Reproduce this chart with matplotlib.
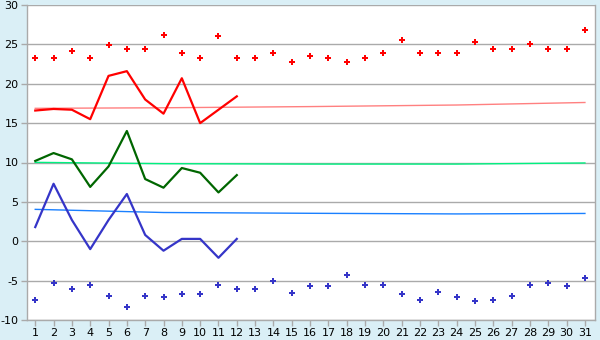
import matplotlib
matplotlib.use("Agg")
import matplotlib.pyplot as plt

plt.rcParams["axes.unicode_minus"] = False

days = list(range(1, 32))
max_pts = [23.3, 23.3, 24.1, 23.3, 24.9, 24.4, 24.4, 26.2, 23.9, 23.3,
           26.1, 23.3, 23.3, 23.9, 22.8, 23.5, 23.3, 22.8, 23.3, 23.9,
           25.6, 23.9, 23.9, 23.9, 25.3, 24.4, 24.4, 25.0, 24.4, 24.4, 26.8]
min_pts = [-7.5, -5.3, -6.1, -5.6, -6.9, -8.3, -6.9, -7.1, -6.7, -6.7,
           -5.6, -6.1, -6.1, -5.0, -6.6, -5.7, -5.7, -4.3, -5.6, -5.6,
           -6.7, -7.5, -6.4, -7.1, -7.6, -7.5, -6.9, -5.6, -5.3, -5.7, -4.7]
line_days = list(range(1, 13))
red_line = [16.6, 16.8, 16.7, 15.5, 21.0, 21.6, 18.0, 16.2, 20.7, 15.0, 16.7, 18.4]
green_line = [10.2, 11.2, 10.4, 6.9, 9.5, 14.0, 7.9, 6.8, 9.3, 8.7, 6.2, 8.4]
blue_line = [1.8, 7.3, 2.7, -1.0, 2.7, 6.0, 0.8, -1.2, 0.3, 0.3, -2.1, 0.3]
trend_days = [1, 8, 16, 24, 31]
red_trend = [16.88, 16.95, 17.1, 17.3, 17.62]
green_trend = [10.02, 9.85, 9.8, 9.8, 9.94]
blue_trend = [4.05, 3.65, 3.55, 3.47, 3.53]

bg = "#daeff6"
fig = plt.figure(figsize=(6, 3.4), dpi=100, facecolor=bg)
ax = fig.add_axes([27/600, 20/340, 568/600, 315/340])
ax.set_facecolor("white")

ax.plot(trend_days, red_trend, color="#ff8080", lw=1.0, zorder=2)
ax.plot(trend_days, green_trend, color="#00f080", lw=1.0, zorder=2)
ax.plot(trend_days, blue_trend, color="#1a80ff", lw=1.0, zorder=2)

ax.plot(line_days, red_line, color="#ff0000", lw=1.6, zorder=3)
ax.plot(line_days, green_line, color="#006600", lw=1.6, zorder=3)
ax.plot(line_days, blue_line, color="#3535c8", lw=1.6, zorder=3)

ax.plot(days, max_pts, ls="none", marker="P", ms=5, color="#ff0000", mew=0, zorder=4)
ax.plot(days, min_pts, ls="none", marker="P", ms=5, color="#3535c8", mew=0, zorder=4)

ax.set_xlim(0.55, 31.55)
ax.set_ylim(-10, 30)
ax.set_xticks(days)
ax.set_yticks(range(-10, 31, 5))
ax.yaxis.grid(True, color="#aaaaaa", lw=1.0)
ax.set_axisbelow(True)
for s in ["left", "bottom", "right"]:
    ax.spines[s].set_color("#aaaaaa")
    ax.spines[s].set_linewidth(1.0)
ax.spines["top"].set_visible(False)
ax.tick_params(axis="both", labelsize=8, colors="#aaaaaa", labelcolor="#000000",
               length=4, width=1.0, pad=2)
fig.savefig("out.png", dpi=100, facecolor=bg)
